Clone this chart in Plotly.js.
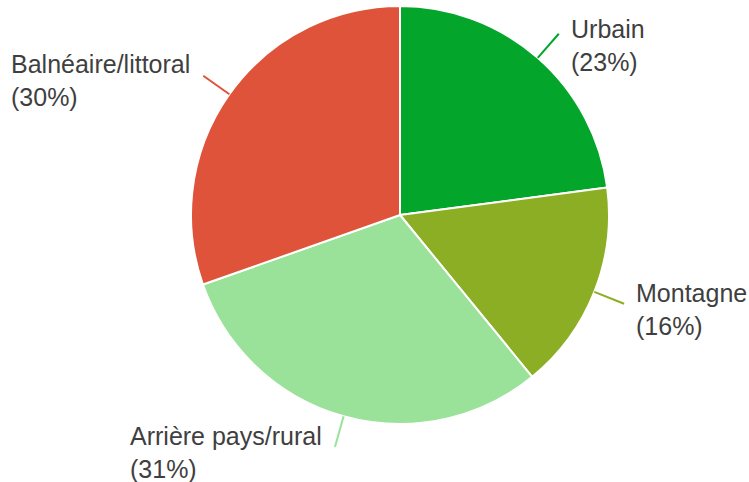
<!DOCTYPE html>
<html>
<head>
<meta charset="utf-8">
<script src="https://cdn.plot.ly/plotly-3.0.1.min.js"></script>
<style>html,body{margin:0;padding:0;background:#fff;}#chart{width:749px;height:482px;}</style>
</head>
<body>
<div id="chart"></div>
<script>
// Data
const categories = ["Urbain", "Montagne", "Arrière pays/rural", "Balnéaire/littoral"];
const values = [22.9, 16.2, 30.5, 30.4];
const percentLabels = ["23%", "16%", "31%", "30%"];
const colors = ["#03a62b", "#8cae25", "#9ae29a", "#df533a"];

const W = 749, H = 482;
const cx = 400, cy = 215, R = 209;
const lineOuter = 241;
const labelDy = [3, -3, -3, -4];

const total = values.reduce((a, b) => a + b, 0);
const shapes = [];
const annotations = [];
let cum = 0;
values.forEach((v, i) => {
  const mid = (cum + v / 2) / total * 2 * Math.PI;
  cum += v;
  const s = Math.sin(mid), c = Math.cos(mid);
  const x0 = cx + R * s, y0 = cy - R * c;
  const x1 = cx + lineOuter * s, y1 = cy - lineOuter * c;
  shapes.push({
    type: "line", xref: "paper", yref: "paper",
    x0: x0 / W, y0: 1 - y0 / H, x1: x1 / W, y1: 1 - y1 / H,
    line: {color: colors[i], width: 2}
  });
  const right = s >= 0;
  annotations.push({
    xref: "paper", yref: "paper",
    x: (x1 + (right ? 11 : -12)) / W,
    y: 1 - (y1 - 23 + labelDy[i]) / H,
    xanchor: right ? "left" : "right",
    yanchor: "top",
    align: "left",
    showarrow: false,
    borderpad: 0,
    text: categories[i] + "<br>(" + percentLabels[i] + ")",
    font: {family: "Arial, 'Liberation Sans', sans-serif", size: 25, color: "#3f3f3f"}
  });
});

const trace = {
  type: "pie",
  labels: categories,
  values: values,
  sort: false,
  direction: "clockwise",
  rotation: 0,
  textinfo: "none",
  hoverinfo: "label+percent",
  marker: {colors: colors, line: {color: "#ffffff", width: 2}},
  domain: {x: [(cx - R) / W, (cx + R) / W], y: [1 - (cy + R) / H, 1 - (cy - R) / H]}
};

const layout = {
  width: W, height: H,
  margin: {l: 0, r: 0, t: 0, b: 0},
  showlegend: false,
  paper_bgcolor: "#ffffff",
  shapes: shapes,
  annotations: annotations
};

Plotly.newPlot("chart", [trace], layout, {displayModeBar: false, staticPlot: true});
</script>
</body>
</html>
